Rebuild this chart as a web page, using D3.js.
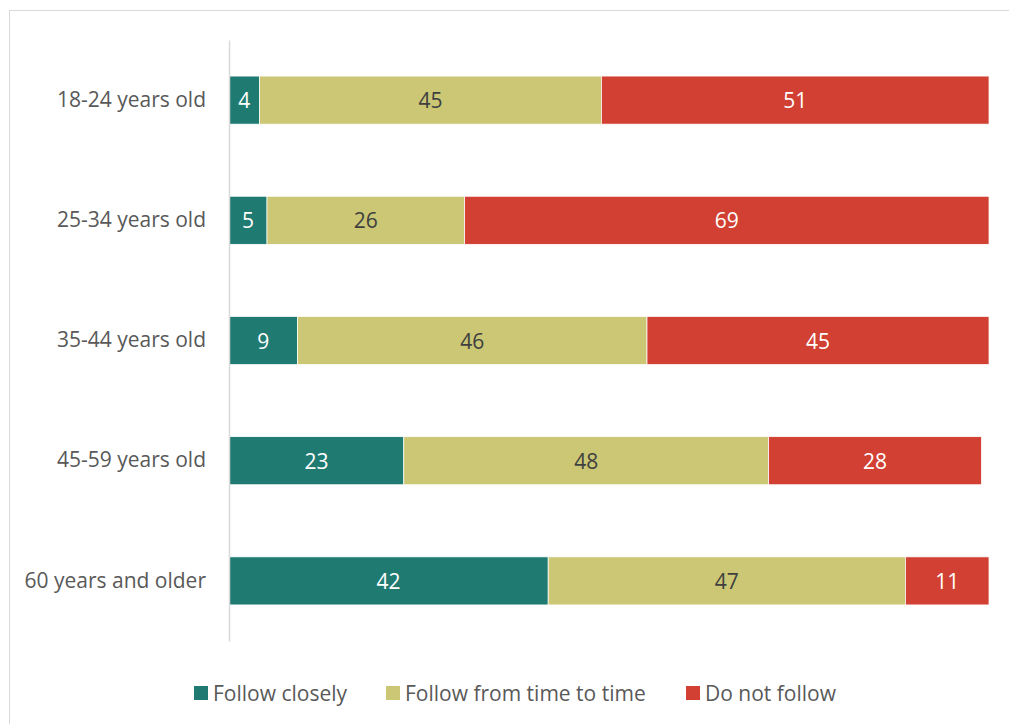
<!DOCTYPE html>
<html><head><meta charset="utf-8">
<script src="https://cdn.jsdelivr.net/npm/d3@7"></script>
<style>body{margin:0;background:#fff}svg{display:block}</style>
</head><body>
<svg id="c" width="1009" height="724"></svg>
<script>
const categories = ["18-24 years old","25-34 years old","35-44 years old","45-59 years old","60 years and older"];
const seriesNames = ["Follow closely","Follow from time to time","Do not follow"];
const followClosely = [4,5,9,23,42];
const followTime = [45,26,46,48,47];
const doNotFollow = [51,69,45,28,11];
const colors = ["#1F7A72","#CBC775","#D14032"];
const labelColors = ["#ffffff","#404040","#ffffff"];

const font = "'Open Sans', sans-serif";
const fs = 21;
const svg = d3.select("#c");
svg.append("rect").attr("x",9.5).attr("y",10.5).attr("width",1020).attr("height",740)
  .attr("fill","#fff").attr("stroke","#d9d9d9").attr("stroke-width",1);

const x = d3.scaleLinear().domain([0,100]).range([229,989]);
const y = d3.scaleBand().domain(categories).range([40,641]).paddingInner(0.6).paddingOuter(0.3);

const rows = categories.map((c,i)=>({cat:c, vals:[followClosely[i],followTime[i],doNotFollow[i]]}));
const stackData = rows.map(r=>{const o={cat:r.cat}; seriesNames.forEach((s,j)=>o[s]=r.vals[j]); return o;});
const stacked = d3.stack().keys(seriesNames)(stackData);

stacked.forEach((layer,j)=>{
  const g = svg.append("g");
  g.selectAll("rect").data(layer).join("rect")
    .attr("x",d=>x(d[0])).attr("width",d=>x(d[1])-x(d[0]))
    .attr("y",d=>y(d.data.cat)).attr("height",y.bandwidth())
    .attr("fill",colors[j]).attr("stroke","#fff").attr("stroke-width",0.75);
  g.selectAll("text").data(layer).join("text")
    .attr("x",d=>(x(d[0])+x(d[1]))/2).attr("y",d=>y(d.data.cat)+y.bandwidth()/2)
    .attr("text-anchor","middle").attr("dominant-baseline","central")
    .attr("font-family",font).attr("font-size",fs).attr("fill",labelColors[j])
    .text(d=>d[1]-d[0]);
});

const ax = svg.append("g").attr("transform","translate(229,0)").call(d3.axisLeft(y).tickSize(0).tickPadding(23));
ax.select(".domain").attr("stroke","#d9d9d9").attr("stroke-width",1.5);
ax.selectAll("text").attr("font-family",font).attr("font-size",fs).attr("fill","#595959");

const legX = [194,386,686];
const leg = svg.append("g");
seriesNames.forEach((s,j)=>{
  leg.append("rect").attr("x",legX[j]).attr("y",686).attr("width",14).attr("height",14).attr("fill",colors[j]);
  leg.append("text").attr("x",legX[j]+19).attr("y",693).attr("dominant-baseline","central")
    .attr("font-family",font).attr("font-size",fs).attr("fill","#595959").text(s);
});
</script>
</body></html>
